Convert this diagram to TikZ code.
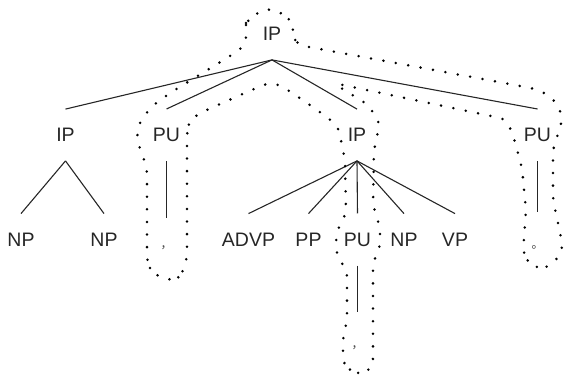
\documentclass[tikz,border=0pt]{standalone}
\usepackage{fontspec}
\setmainfont{Liberation Sans}
\newfontfamily\cjk{Noto Sans CJK SC}
\begin{document}
\begin{tikzpicture}[x=1pt,y=-1pt,
  lab/.style={inner xsep=0pt,inner ysep=19pt,font=\fontsize{19.5}{22}\selectfont,text=black!85},
  punct/.style={inner sep=0pt,anchor=base,font=\cjk\fontsize{12}{14}\selectfont,text=black!75},
  edge/.style={line width=1.1pt,draw=black!85},
  dots/.style={line width=2.8pt,line cap=round,dash pattern=on 0pt off 12.6pt,rounded corners=7pt}]
\useasboundingbox (0,0) rectangle (566,382);
% labels
\node[lab] (ip0) at (272,34) {IP};
\node[lab] (ip1) at (65.5,135) {IP};
\node[lab] (pu1) at (166.5,135) {PU};
\node[lab] (ip2) at (357,135) {IP};
\node[lab] (pu2) at (537.5,135) {PU};
\node[lab] (np1) at (21,239.5) {NP};
\node[lab] (np2) at (104,239.5) {NP};
\node[lab] (advp) at (248.5,239.5) {ADVP};
\node[lab] (pp) at (308.5,239.5) {PP};
\node[lab] (pu3) at (357.5,239.5) {PU};
\node[lab] (np3) at (404,239.5) {NP};
\node[lab] (vp) at (455,239.5) {VP};
\node[punct,text height=31pt] (c1) at (166.5,249) {，};
\node[punct,text height=37pt] (c3) at (357.5,349) {，};
\node[punct,text height=37pt] (c2) at (537.5,249) {。};
% edges
\foreach \t in {ip1,pu1,ip2,pu2} \draw[edge] (ip0.south) -- (\t.north);
\foreach \t in {np1,np2} \draw[edge] (ip1.south) -- (\t.north);
\foreach \t in {advp,pp,pu3,np3,vp} \draw[edge] (ip2.south) -- (\t.north);
\draw[edge] (pu1.south) -- (c1.north);
\draw[edge] (pu2.south) -- (c2.north);
\draw[edge] (pu3.south) -- (c3.north);
% dotted outline
\draw[dots] (246,30) -- (246,21) -- (257,13) -- (270,8) -- (285,15) -- (293,24) -- (293,37) -- (298,45)
  -- (488,80) -- (536,89) -- (550,96) -- (560,108) -- (562,123) -- (553,148) -- (553,200) -- (560,232)
  -- (563,250) -- (552,265) -- (540,269) -- (528,263) -- (523,252) -- (526,210) -- (522,168) -- (513,135)
  -- (506,119) -- (486,115) -- (333,83) -- (367,104) -- (380,122) -- (374,150) -- (373,205) -- (380,228)
  -- (380,248) -- (373,262) -- (373,365) -- (364,374) -- (352,372) -- (343,364) -- (343,338) -- (347,320)
  -- (347,270) -- (337,257) -- (336,233) -- (346,214) -- (345,160) -- (338,126) -- (320,112) -- (288,90)
  -- (272,82) -- (256,88) -- (200,113) -- (189,121) -- (187,133) -- (187,258) -- (183,272) -- (176,281)
  -- (164,278) -- (152,273) -- (147,262) -- (147,168) -- (137,140) -- (138,125) -- (151,107) -- (170,93)
  -- (235,53) -- (246,44) -- cycle;
\end{tikzpicture}
\end{document}
